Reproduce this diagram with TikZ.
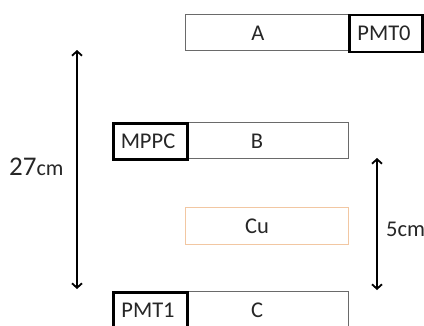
\documentclass[tikz,border=0pt]{standalone}
\usepackage{fontspec}
\setmainfont{Carlito}
\usetikzlibrary{arrows.meta}
\definecolor{boxgray}{HTML}{6A6A6A}
\definecolor{cuorange}{HTML}{F2C7A2}
\tikzset{
  detbox/.style={draw=boxgray, line width=0.9pt, inner sep=0pt, anchor=north west},
  sensbox/.style={draw=black, line width=2.8pt, inner sep=0pt, anchor=north west},
  cubox/.style={draw=cuorange, line width=0.9pt, inner sep=0pt, anchor=north west},
  lbl/.style={font=\fontsize{22.5}{26}\selectfont, text=black!85, inner sep=0pt},
  dimarrow/.style={line width=1.8pt, {Straight Barb[length=4.5pt,width=10pt,line width=1.8pt]}-{Straight Barb[length=4.5pt,width=10pt,line width=1.8pt]}}
}
\begin{document}
\begin{tikzpicture}[x=1pt,y=-1pt]
\useasboundingbox (0,0) rectangle (424,325);
\clip (0,0) rectangle (424,325);
% A row
\node[detbox, minimum width=163pt, minimum height=36pt] (boxA) at (185,14) {};
\node[sensbox, minimum width=73pt, minimum height=37pt] (pmt0) at (348,13.5) {};
\node[lbl] (tA) at (258,33) {A};
\node[lbl] (tP0) at (384,33) {PMT0};
% B row
\node[detbox, minimum width=162pt, minimum height=36pt] (boxB) at (186,122) {};
\node[sensbox, minimum width=74pt, minimum height=36pt] (mppc) at (112,122) {};
\node[lbl] (tB) at (257,141) {B};
\node[lbl] (tM) at (148,141) {MPPC};
% Cu
\node[cubox, minimum width=163pt, minimum height=37pt] (cu) at (185,207) {};
\node[lbl] (tCu) at (257,226) {Cu};
% C row
\node[detbox, minimum width=162pt, minimum height=36pt] (boxC) at (186,291) {};
\node[sensbox, minimum width=74pt, minimum height=36pt] (pmt1) at (112,291) {};
\node[lbl] (tC) at (257,310) {C};
\node[lbl] (tP1) at (148,310) {PMT1};
% dimension arrows
\coordinate (l1) at (77,50);
\coordinate (l2) at (77,289);
\draw[dimarrow] (l1) -- (l2);
\node[inner sep=0pt, anchor=west, text=black!85] (t27) at (9,167) {\fontsize{27}{29}\selectfont 27\fontsize{22}{24}\selectfont cm};
\coordinate (r1) at (377,158);
\coordinate (r2) at (377,290);
\draw[dimarrow] (r1) -- (r2);
\node[lbl, anchor=west] (t5) at (386,229) {5cm};
\end{tikzpicture}
\end{document}
